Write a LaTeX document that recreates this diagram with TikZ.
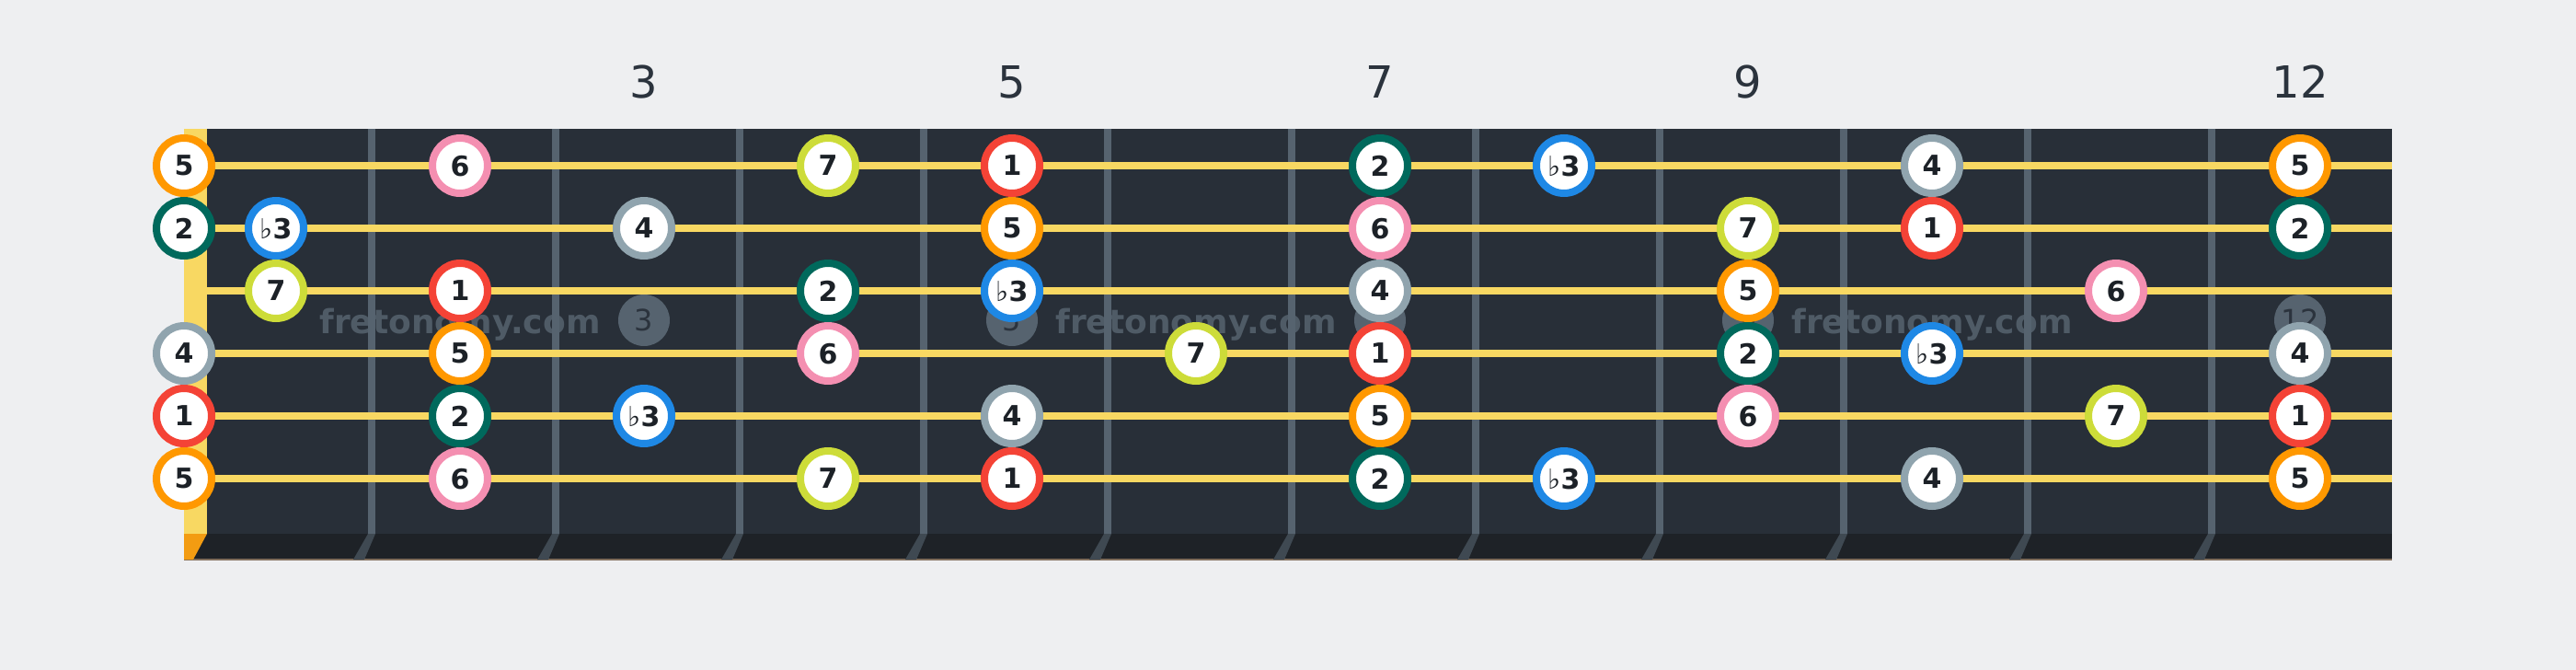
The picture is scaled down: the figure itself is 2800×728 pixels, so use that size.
\documentclass[tikz,border=0pt]{standalone}
\usepackage{fontspec}
\setmainfont{DejaVu Sans}
\definecolor{bg}{HTML}{EEEFF1}
\definecolor{board}{HTML}{282F38}
\definecolor{edge}{HTML}{1E2227}
\definecolor{fretc}{HTML}{56636F}
\definecolor{wire}{HTML}{F8D862}
\definecolor{nutc}{HTML}{F39C12}
\definecolor{ink}{HTML}{1C2127}
\definecolor{labc}{HTML}{2B333D}
\definecolor{deg1}{HTML}{F44336}
\definecolor{deg2}{HTML}{00695C}
\definecolor{deg3}{HTML}{1E88E5}
\definecolor{deg4}{HTML}{90A4AE}
\definecolor{deg5}{HTML}{FF9800}
\definecolor{deg6}{HTML}{F48FB1}
\definecolor{deg7}{HTML}{CDDC39}
\newcommand{\fl}{{\mdseries\char"266D}}
\tikzstyle{note} = [circle, draw, fill=white, line width=4pt,
minimum size=30pt, inner sep=0pt, text=ink, text depth=0pt,
font=\fontsize{15}{15}\selectfont\bfseries]
\tikzstyle{inlay} = [circle, fill=fretc, minimum size=28pt, inner sep=0pt,
text=labc, font=\fontsize{16}{16}\selectfont]
\tikzstyle{fretno} = [text=labc, font=\fontsize{24}{24}\selectfont]
\tikzstyle{wmark} = [text=fretc, anchor=base, opacity=0.85,
font=\fontsize{18}{18}\selectfont\bfseries]

\begin{document}
\begin{tikzpicture}[x=0.5pt, y=-0.5pt]
\fill[bg] (0,0) rectangle (2800,728);
% board and edge
\fill[board] (200,140) rectangle (2600,580);
\fill[edge] (200,580) rectangle (2600,608);
\draw[line width=0.8pt, color=fretc!60!brown] (200,608) -- (2600,608);
% frets
\foreach \f in {1,...,11} {
  \fill[fretc] (200+200*\f,140) rectangle (208+200*\f,580);
  \fill[fretc!60!edge] (200+200*\f,580) -- (208+200*\f,580) -- (196+200*\f,608) -- (184+200*\f,608) -- cycle;
}
% inlays
\foreach \f in {3,5,7,9,12}
  \node[inlay] (in\f) at (100+200*\f,348) {\f};
% watermark
\foreach \x [count=\i] in {500,1300,2100}
  \node[wmark] (wm\i) at (\x,362) {fretonomy.com};
% strings
\foreach \s in {1,...,6}
  \draw[wire, line width=4pt] (225,112+68*\s) -- (2600,112+68*\s);
% nut
\fill[wire] (200,140) rectangle (225,580);
\fill[nutc] (200,580) -- (225,580) -- (210,608) -- (200,608) -- cycle;
% fret numbers
\foreach \f in {3,5,7,9,12}
  \node[fretno] (no\f) at (100+200*\f,89) {\f};
% notes: string/fret/degree
\foreach \s/\f/\d in {1/0/5, 1/2/6, 1/4/7, 1/5/1, 1/7/2, 1/8/3, 1/10/4, 1/12/5,
  2/0/2, 2/1/3, 2/3/4, 2/5/5, 2/7/6, 2/9/7, 2/10/1, 2/12/2,
  3/1/7, 3/2/1, 3/4/2, 3/5/3, 3/7/4, 3/9/5, 3/11/6,
  4/0/4, 4/2/5, 4/4/6, 4/6/7, 4/7/1, 4/9/2, 4/10/3, 4/12/4,
  5/0/1, 5/2/2, 5/3/3, 5/5/4, 5/7/5, 5/9/6, 5/11/7, 5/12/1,
  6/0/5, 6/2/6, 6/4/7, 6/5/1, 6/7/2, 6/8/3, 6/10/4, 6/12/5} {
  \pgfmathsetmacro{\nx}{ifthenelse(\f==0,200,100+200*\f)}
  \node[note, draw=deg\d] (n\s-\f) at (\nx,112+68*\s) {\ifnum\d=3 \fl\fi\d};
}
\end{tikzpicture}
\end{document}
